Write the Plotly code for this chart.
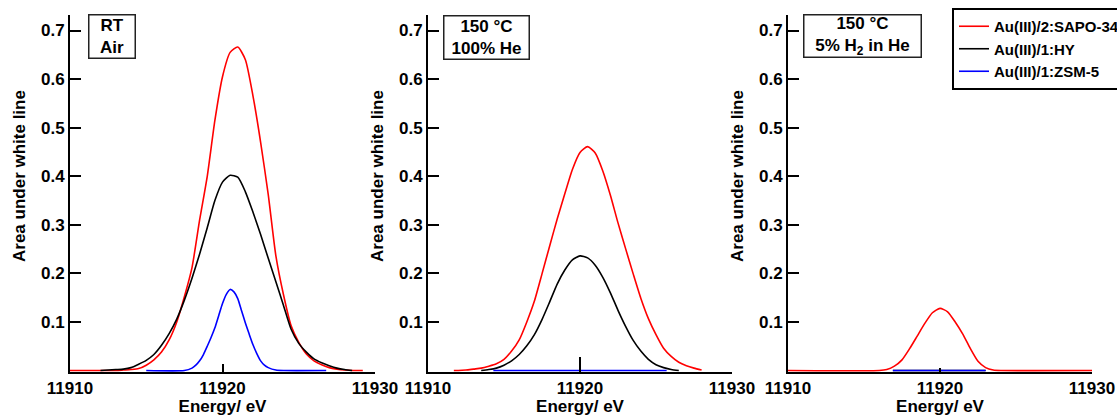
import plotly.graph_objects as go

# ---- energy axis (eV) and white-line area per sample / condition ----
# RT, air
RT_RED_E = [11910, 11911, 11912, 11913, 11913.5, 11914, 11914.5, 11915, 11915.5, 11916, 11916.5,
            11917, 11917.5, 11918, 11918.5, 11919, 11919.5, 11920, 11920.5, 11921, 11921.5,
            11922, 11922.5, 11923, 11923.5, 11924, 11924.5, 11925, 11925.5, 11926, 11926.5,
            11927, 11927.5, 11928, 11928.5, 11929.2]
RT_RED_A = [0, 0, 0, 0, 0.001, 0.002, 0.004, 0.011, 0.022, 0.038, 0.063,
            0.100, 0.152, 0.212, 0.310, 0.400, 0.515, 0.605, 0.655, 0.666, 0.640,
            0.565, 0.470, 0.362, 0.236, 0.156, 0.092, 0.058, 0.034, 0.020, 0.012,
            0.006, 0.003, 0.001, 0, 0]

RT_BLK_E = [11912, 11912.5, 11913, 11913.5, 11914, 11914.5, 11915, 11915.5, 11916, 11916.5,
            11917, 11917.5, 11918, 11918.5, 11919, 11919.5, 11920, 11920.5, 11921, 11921.5,
            11922, 11922.5, 11923, 11923.5, 11924, 11924.5, 11925, 11925.5, 11926, 11926.5,
            11927, 11927.5, 11928, 11928.5]
RT_BLK_A = [0, 0.001, 0.002, 0.003, 0.006, 0.013, 0.021, 0.033, 0.052, 0.076,
            0.106, 0.145, 0.190, 0.240, 0.294, 0.350, 0.388, 0.402, 0.398, 0.368,
            0.326, 0.280, 0.231, 0.183, 0.134, 0.085, 0.056, 0.038, 0.024, 0.016,
            0.010, 0.005, 0.002, 0]

RT_BLU_E = [11915, 11917.5, 11918, 11918.25, 11918.5, 11918.75, 11919, 11919.25, 11919.5, 11919.75,
            11920, 11920.25, 11920.5, 11920.75, 11921, 11921.25, 11921.5, 11921.75, 11922, 11922.25,
            11922.5, 11922.75, 11923, 11923.5, 11924, 11926.8]
RT_BLU_A = [0, 0, 0.005, 0.011, 0.020, 0.033, 0.050, 0.068, 0.088, 0.113,
            0.138, 0.157, 0.167, 0.162, 0.148, 0.123, 0.098, 0.075, 0.053, 0.035,
            0.020, 0.011, 0.006, 0.001, 0, 0]

# 150 °C, 100% He
HE_RED_E = [11911.7, 11912, 11912.5, 11913, 11913.5, 11914, 11914.5, 11915, 11915.5, 11916, 11916.5,
            11917, 11917.5, 11918, 11918.5, 11919, 11919.5, 11920, 11920.5, 11921, 11921.5,
            11922, 11922.5, 11923, 11923.5, 11924, 11924.5, 11925, 11925.5, 11926, 11926.5,
            11927, 11927.5, 11928]
HE_RED_A = [0, 0, 0.001, 0.003, 0.005, 0.009, 0.014, 0.023, 0.040, 0.063, 0.100,
            0.143, 0.199, 0.256, 0.312, 0.364, 0.414, 0.449, 0.461, 0.448, 0.411,
            0.361, 0.304, 0.251, 0.199, 0.149, 0.107, 0.074, 0.046, 0.029, 0.017,
            0.010, 0.005, 0.001]

HE_BLK_E = [11913.5, 11914, 11914.5, 11915, 11915.5, 11916, 11916.5, 11917, 11917.5, 11918,
            11918.5, 11919, 11919.5, 11920, 11920.5, 11921, 11921.5, 11922, 11922.5, 11923,
            11923.5, 11924, 11924.5, 11925, 11925.5, 11926, 11926.5]
HE_BLK_A = [0, 0.002, 0.005, 0.011, 0.020, 0.033, 0.051, 0.074, 0.105, 0.141,
            0.178, 0.207, 0.228, 0.236, 0.232, 0.217, 0.192, 0.160, 0.124, 0.091,
            0.062, 0.040, 0.023, 0.012, 0.006, 0.002, 0]

HE_BLU_E = [11914.3, 11920, 11925.7]
HE_BLU_A = [0, 0, 0]

# 150 °C, 5% H2 in He
H2_RED_E = [11910, 11916, 11916.5, 11917, 11917.5, 11918, 11918.5, 11919, 11919.5, 11920,
            11920.5, 11921, 11921.5, 11922, 11922.5, 11923, 11923.5, 11924, 11930]
H2_RED_A = [0, 0, 0.002, 0.009, 0.022, 0.045, 0.071, 0.097, 0.119, 0.128,
            0.121, 0.100, 0.075, 0.045, 0.019, 0.006, 0.001, 0, 0]

H2_BLK_E = [11916.9, 11920, 11923.0]
H2_BLK_A = [0, 0, 0]

H2_BLU_E = [11916.9, 11920, 11923.0]
H2_BLU_A = [0, 0, 0]

SAMPLES = ["Au(III)/2:SAPO-34", "Au(III)/1:HY", "Au(III)/1:ZSM-5"]
COLORS = ["#ff0000", "#000000", "#0000ff"]
CONDITIONS = ["RT<br>Air", "150 °C<br>100% He", "150 °C<br>5% H<sub>2</sub> in He"]

X_TICKS = [11910, 11920, 11930]
Y_TICKS = [0.1, 0.2, 0.3, 0.4, 0.5, 0.6, 0.7]
Y_TICKTEXT = ["0.1", "0.2", "0.3", "0.4", "0.5", "0.6", "0.7"]

PANELS = [
    [(RT_RED_E, RT_RED_A), (RT_BLK_E, RT_BLK_A), (RT_BLU_E, RT_BLU_A)],
    [(HE_RED_E, HE_RED_A), (HE_BLK_E, HE_BLK_A), (HE_BLU_E, HE_BLU_A)],
    [(H2_RED_E, H2_RED_A), (H2_BLK_E, H2_BLK_A), (H2_BLU_E, H2_BLU_A)],
]

# ---- layout geometry (pixels) ----
W, H = 1117, 416
M_TOP, M_BOT = 15, 44
PLOT_H = H - M_TOP - M_BOT
X_SPANS = [(70, 375), (428, 732), (788, 1092)]
X_TICKLEN = [8, 15, 4]

FONT = "Liberation Sans, Arial, sans-serif"


def px_x(p):
    return p / W


def px_y(p):
    return (H - M_BOT - p) / PLOT_H


fig = go.Figure()

for i, series in enumerate(PANELS):
    xa = "x" if i == 0 else f"x{i + 1}"
    ya = "y" if i == 0 else f"y{i + 1}"
    for j, (e, a) in enumerate(series):
        fig.add_trace(go.Scatter(
            x=e, y=a, mode="lines", name=SAMPLES[j],
            line=dict(color=COLORS[j], width=1.6, shape="spline", smoothing=0.6),
            xaxis=xa, yaxis=ya, legendgroup=SAMPLES[j], showlegend=(i == 0),
        ))

    x0, x1 = X_SPANS[i]
    axis_font = dict(family=FONT, size=17, color="black", weight="bold")
    fig.update_layout({
        f"xaxis{'' if i == 0 else i + 1}": dict(
            domain=[px_x(x0), px_x(x1)], anchor=ya, range=[11910, 11930],
            tickvals=X_TICKS, ticktext=[str(v) for v in X_TICKS],
            ticks="inside", ticklen=X_TICKLEN[i], tickwidth=1.5, tickcolor="black",
            showline=True, linecolor="black", linewidth=2, showgrid=False, zeroline=False,
            tickfont=axis_font,
            title=dict(text="Energy/ eV", font=axis_font, standoff=6),
        ),
        f"yaxis{'' if i == 0 else i + 1}": dict(
            domain=[0, 1], anchor=xa, range=[-0.003, 0.732],
            tickvals=Y_TICKS, ticktext=Y_TICKTEXT,
            ticks="inside", ticklen=11, tickwidth=1.5, tickcolor="black",
            showline=True, linecolor="black", linewidth=2, showgrid=False, zeroline=False,
            tickfont=axis_font,
        ),
    })

    # y-axis title
    fig.add_annotation(
        text="Area under white line", textangle=-90, xref="paper", yref="paper",
        x=px_x(x0 - 50), y=px_y(176), xanchor="center", yanchor="middle", showarrow=False,
        font=dict(family=FONT, size=17, color="black", weight="bold"),
    )

# condition boxes
BOXES = [(88, 135, 14, 58), (443, 529, 15, 59), (803, 921, 14, 57)]
for (bx0, bx1, by0, by1), label in zip(BOXES, CONDITIONS):
    fig.add_annotation(
        text=label, xref="paper", yref="paper",
        x=px_x((bx0 + bx1) / 2), y=px_y((by0 + by1) / 2),
        xanchor="center", yanchor="middle", showarrow=False, align="center",
        width=bx1 - bx0 - 2, height=by1 - by0 - 2, borderpad=0,
        bordercolor="#222222", borderwidth=1.5, bgcolor="white",
        font=dict(family=FONT, size=17, color="black", weight="bold"),
    )

fig.update_layout(
    width=W, height=H,
    margin=dict(l=0, r=0, t=M_TOP, b=M_BOT, autoexpand=False),
    paper_bgcolor="white", plot_bgcolor="white",
    legend=dict(
        x=px_x(952), y=px_y(8), xanchor="left", yanchor="top",
        bordercolor="black", borderwidth=2, bgcolor="white",
        font=dict(family=FONT, size=15, color="black", weight="bold"),
        traceorder="normal",
    ),
)

fig.write_html("out.html")
